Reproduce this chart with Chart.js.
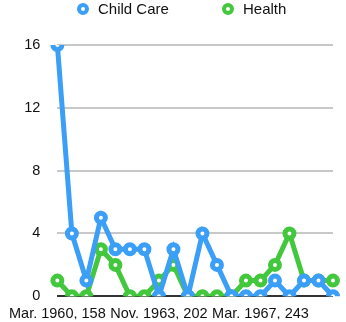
<!DOCTYPE html>
<html>
<head>
<meta charset="utf-8">
<script src="https://cdn.jsdelivr.net/npm/chart.js@4/dist/chart.umd.min.js"></script>
<style>
  html, body { margin: 0; padding: 0; background: #ffffff; }
  #wrap { width: 346px; height: 322px; }
</style>
</head>
<body>
<div id="wrap"><canvas id="chart" width="346" height="322"></canvas></div>
<script>
// Periods (month, year, running number)
const categories = [
  "Mar. 1960, 158", "Sep. 1960, 164", "Mar. 1961, 170", "Sep. 1961, 176",
  "Feb. 1962, 182", "Aug. 1962, 189", "Mar. 1963, 195", "Nov. 1963, 202",
  "Apr. 1964, 208", "Oct. 1964, 214", "Apr. 1965, 220", "Sep. 1965, 226",
  "Mar. 1966, 232", "Sep. 1966, 237", "Mar. 1967, 243", "Sep. 1967, 249",
  "Mar. 1968, 255", "Sep. 1968, 261", "Mar. 1969, 267", "Sep. 1969, 273"
];
const childCare = [16, 4, 1, 5, 3, 3, 3, 0, 3, 0, 4, 2, 0, 0, 0, 1, 0, 1, 1, 0];
const health    = [1, 0, 0, 3, 2, 0, 0, 1, 2, 0, 0, 0, 0, 1, 1, 2, 4, 1, 1, 1];
const yTicks = [0, 4, 8, 12, 16];

const BLUE = "#3b9ff7";
const GREEN = "#43c83d";
const FONT = "'Liberation Sans', Arial, Helvetica, sans-serif";

function series(label, data, color) {
  return {
    label, data,
    borderColor: color,
    backgroundColor: "#ffffff",
    borderWidth: 5,
    pointRadius: 4.5,
    pointBorderWidth: 5,
    pointBackgroundColor: "#ffffff",
    pointBorderColor: color,
    tension: 0,
    fill: false
  };
}

// Legend row across the top: ring marker followed by the series name
const topLegend = {
  id: "topLegend",
  afterDraw(chart) {
    const ctx = chart.ctx;
    const items = [
      { ds: chart.data.datasets[0], x: 83 },
      { ds: chart.data.datasets[1], x: 228 }
    ];
    ctx.save();
    ctx.font = "15px " + FONT;
    ctx.textBaseline = "middle";
    ctx.textAlign = "left";
    items.forEach(it => {
      ctx.beginPath();
      ctx.arc(it.x, 9, 4, 0, Math.PI * 2);
      ctx.fillStyle = "#ffffff";
      ctx.fill();
      ctx.lineWidth = 4;
      ctx.strokeStyle = it.ds.borderColor;
      ctx.stroke();
      ctx.fillStyle = "#111111";
      ctx.fillText(it.ds.label, it.x + 15, 10);
    });
    ctx.restore();
  }
};

new Chart(document.getElementById("chart"), {
  type: "line",
  data: {
    labels: categories,
    datasets: [
      series("Child Care", childCare, BLUE),
      series("Health", health, GREEN)
    ]
  },
  plugins: [topLegend],
  options: {
    responsive: false,
    animation: false,
    devicePixelRatio: 1,
    layout: { padding: { left: 5, right: 13, top: 45, bottom: 0 } },
    plugins: {
      tooltip: { enabled: false },
      legend: { display: false }
    },
    scales: {
      x: {
        offset: false,
        grid: { display: false, drawTicks: false },
        border: { display: false },
        afterFit(scale) { scale.height = 23; },
        ticks: {
          autoSkip: false,
          maxRotation: 0,
          minRotation: 0,
          padding: 9,
          color: "#111111",
          font: { family: FONT, size: 14.5 },
          callback(value, index) {
            return index % 7 === 0 ? categories[index] : "";
          }
        }
      },
      y: {
        min: yTicks[0],
        max: yTicks[yTicks.length - 1],
        afterBuildTicks(axis) { axis.ticks = yTicks.map(v => ({ value: v })); },
        grid: {
          drawTicks: false,
          lineWidth: 2,
          color: ctx => ctx.tick && ctx.tick.value === 0 ? "#333333" : "#c8c8c8"
        },
        border: { display: false },
        ticks: {
          padding: 17,
          color: "#111111",
          font: { family: FONT, size: 14.5 }
        }
      }
    }
  }
});
</script>
</body>
</html>
